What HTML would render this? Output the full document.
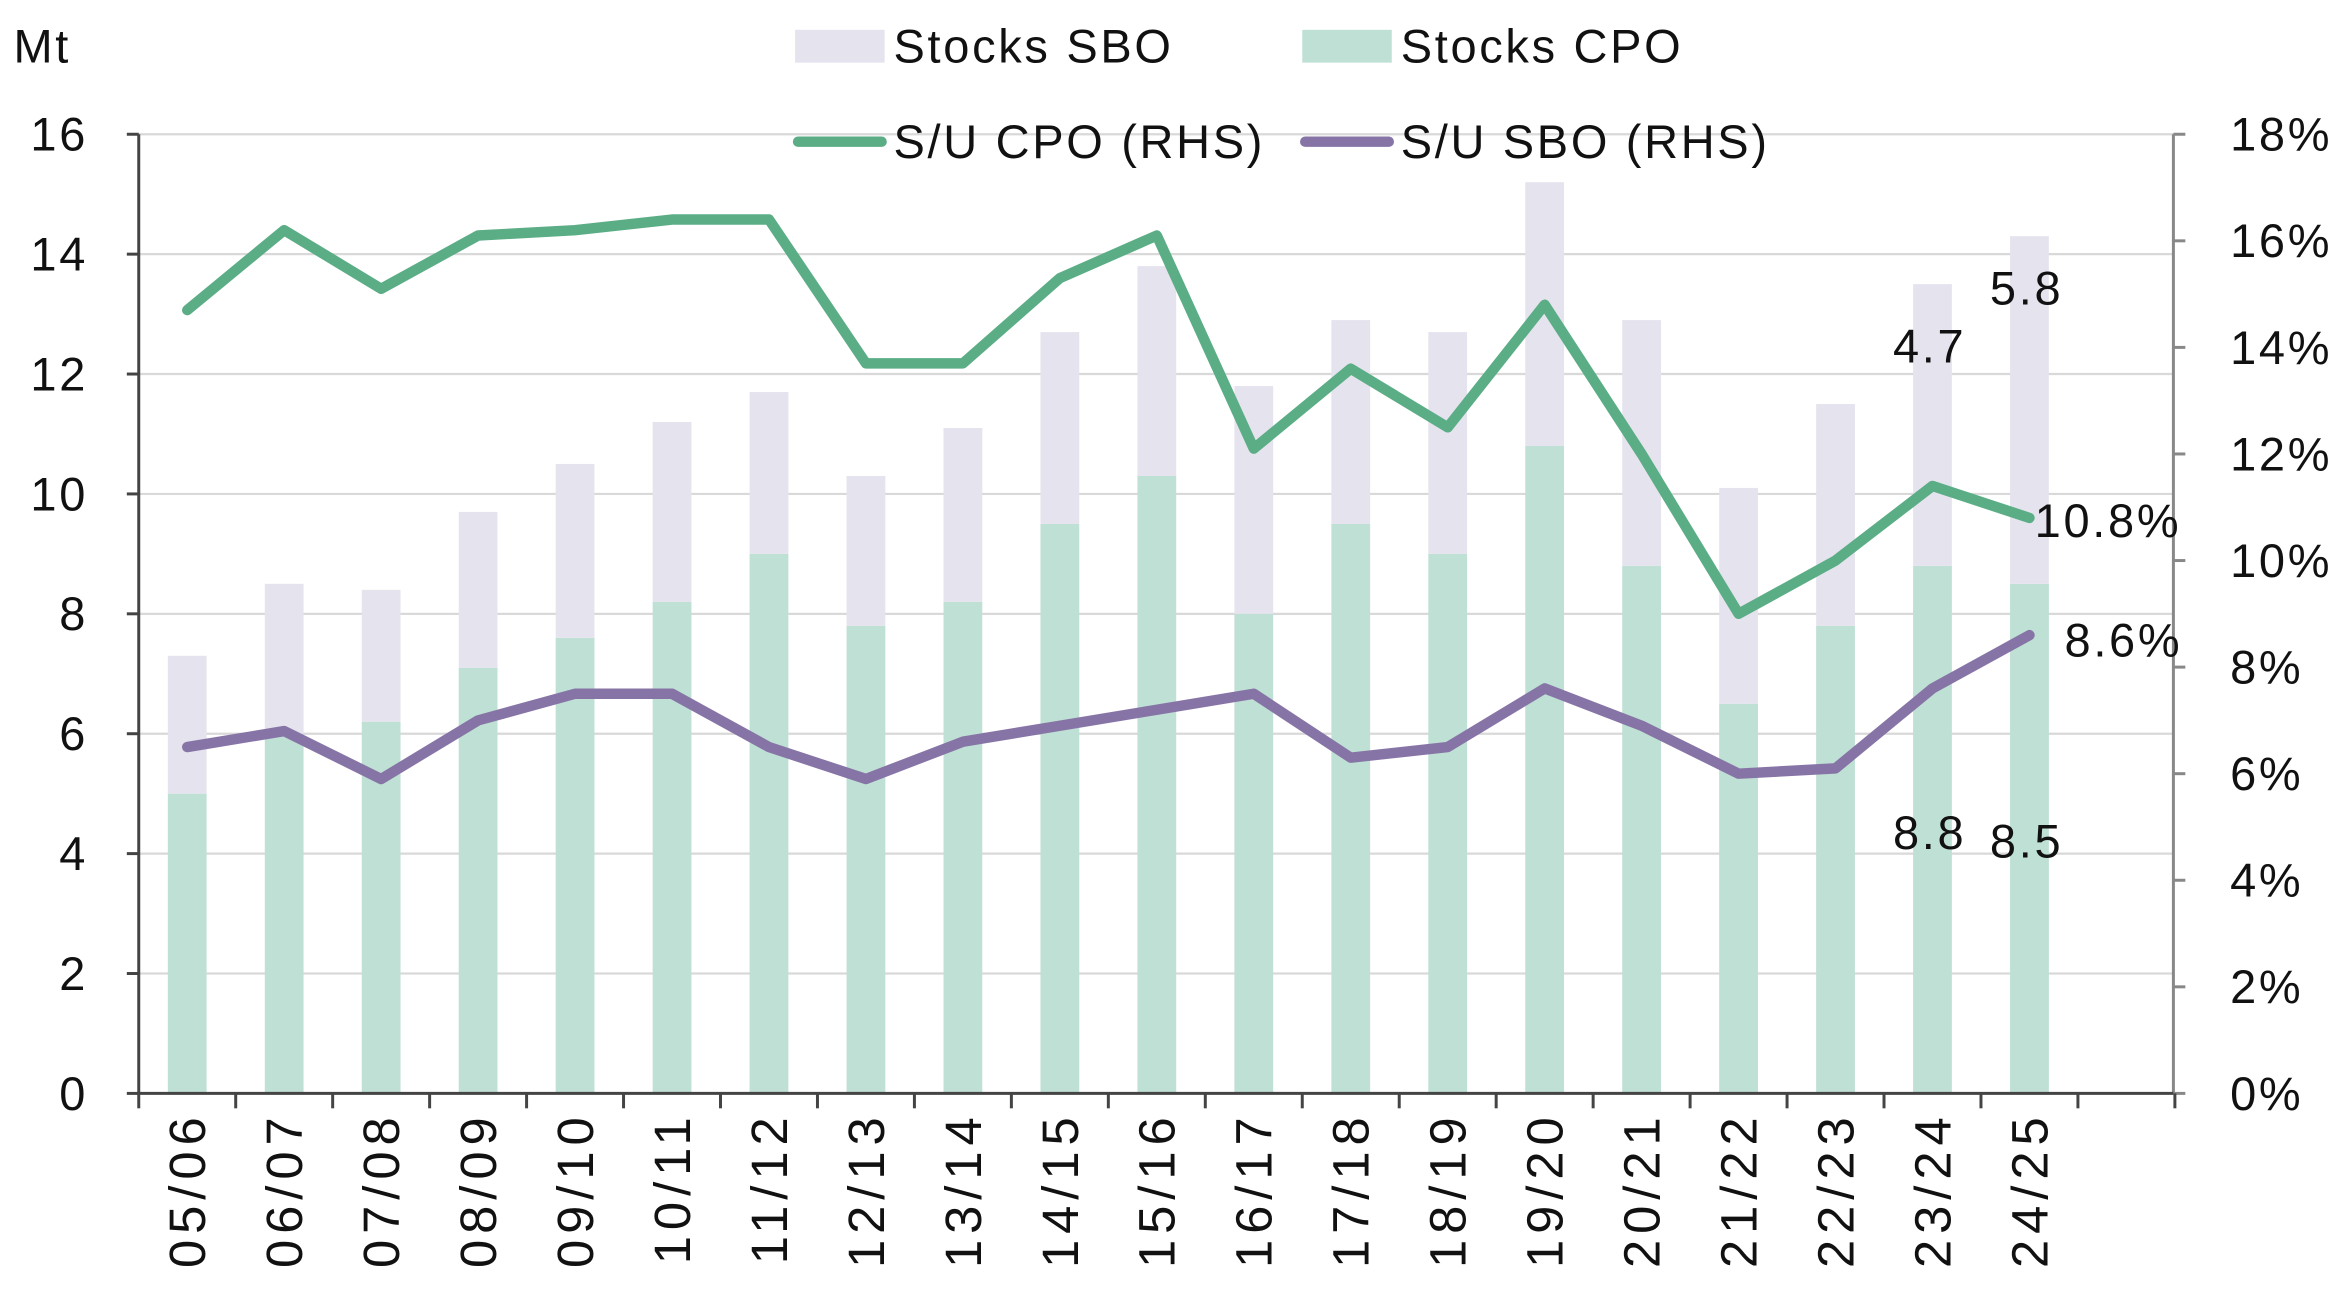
<!DOCTYPE html>
<html><head><meta charset="utf-8"><style>
html,body{margin:0;padding:0;background:#fff}
svg{display:block;font-family:"Liberation Sans",sans-serif}
</style></head><body>
<svg id="chart" width="2339" height="1300" viewBox="0 0 1568 871.5" xmlns="http://www.w3.org/2000/svg"></svg>
<script>
const categories=["05/06","06/07","07/08","08/09","09/10","10/11","11/12","12/13","13/14","14/15","15/16","16/17","17/18","18/19","19/20","20/21","21/22","22/23","23/24","24/25"];
const stocksCPO=[5.0,6.0,6.2,7.1,7.6,8.2,9.0,7.8,8.2,9.5,10.3,8.0,9.5,9.0,10.8,8.8,6.5,7.8,8.8,8.5];
const stocksSBO=[2.3,2.5,2.2,2.6,2.9,3.0,2.7,2.5,2.9,3.2,3.5,3.8,3.4,3.7,4.4,4.1,3.6,3.7,4.7,5.8];
const suCPO=[14.7,16.2,15.1,16.1,16.2,16.4,16.4,13.7,13.7,15.3,16.1,12.1,13.6,12.5,14.8,12.0,9.0,10.0,11.4,10.8];
const suSBO=[6.5,6.8,5.9,7.0,7.5,7.5,6.5,5.9,6.6,6.9,7.2,7.5,6.3,6.5,7.6,6.9,6.0,6.1,7.6,8.6];
const leftTicks=[0,2,4,6,8,10,12,14,16];
const rightTicks=[0,2,4,6,8,10,12,14,16,18];

const NS="http://www.w3.org/2000/svg";
const svg=document.getElementById('chart');
const X0=93,X1=1457,Y0=733,Y1=90,SLOT=65;
const xc=i=>X0+SLOT*(i+0.5);
const yL=v=>Y0-(v/16)*(Y0-Y1);
const yR=v=>Y0-(v/18)*(Y0-Y1);
function el(tag,attrs,parent){const e=document.createElementNS(NS,tag);for(const k in attrs)e.setAttribute(k,attrs[k]);(parent||svg).appendChild(e);return e;}
function txt(s,attrs){const t=el('text',Object.assign({'font-size':31.5,'letter-spacing':1.8,fill:'#111'},attrs));t.textContent=s;return t;}

leftTicks.forEach(v=>{if(v>0){const g=el('line',{x1:X0,x2:X1,y1:yL(v),y2:yL(v),stroke:'#d9d9d9','stroke-width':1.5});

}});

categories.forEach((c,i)=>{
  const w=26,x=xc(i)-w/2;
  const b1=el('rect',{x:x,y:yL(stocksCPO[i]),width:w,height:yL(0)-yL(stocksCPO[i]),fill:'#bfe0d4'});
  
  
  const top=stocksCPO[i]+stocksSBO[i];
  const b2=el('rect',{x:x,y:yL(top),width:w,height:yL(stocksCPO[i])-yL(top),fill:'#e5e3ee'});
  
  
});

const la=el('line',{x1:X0,x2:X0,y1:Y1,y2:Y0,stroke:'#444','stroke-width':2});


const ra=el('line',{x1:X1,x2:X1,y1:Y1,y2:Y0,stroke:'#888','stroke-width':2});


const xa=el('line',{x1:X0,x2:X1,y1:Y0,y2:Y0,stroke:'#444','stroke-width':2});



leftTicks.forEach(v=>{
  el('line',{x1:X0-8,x2:X0,y1:yL(v),y2:yL(v),stroke:'#444','stroke-width':2});
  const t=txt(String(v),{x:59,y:yL(v)+11,'text-anchor':'end'});
  
  
});
rightTicks.forEach(v=>{
  el('line',{x1:X1,x2:X1+8,y1:yR(v),y2:yR(v),stroke:'#888','stroke-width':2});
  const t=txt(v+'%',{x:1495,y:yR(v)+11});
  
  
});
for(let i=0;i<=21;i++){el('line',{x1:X0+SLOT*i,x2:X0+SLOT*i,y1:Y0,y2:Y0+10,stroke:'#444','stroke-width':2});}
categories.forEach((c,i)=>{
  const t=txt(c,{x:0,y:0,'text-anchor':'end','font-size':34,'letter-spacing':4,transform:`translate(${xc(i)+12},745) rotate(-90)`});
  
  
});
const yt=txt('Mt',{x:9,y:42});



function line(vals,color,name){
  const d=vals.map((v,i)=>(i?'L':'M')+xc(i)+','+yR(v)).join(' ');
  const p=el('path',{d:d,fill:'none',stroke:color,'stroke-width':7,'stroke-linecap':'round','stroke-linejoin':'round'});
  
  
}
line(suCPO,'#5aad85','line-su-cpo');
line(suSBO,'#8774a6','line-su-sbo');

const n=categories.length;
[[ (stocksSBO[n-2]).toFixed(1),1269,243],[(stocksSBO[n-1]).toFixed(1),1334,204],
 [suCPO[n-1].toFixed(1)+'%',1364,360],[suSBO[n-1].toFixed(1)+'%',1384,440],
 [stocksCPO[n-2].toFixed(1),1269,569],[stocksCPO[n-1].toFixed(1),1334,575]].forEach(a=>{
  const t=txt(a[0],{x:a[1],y:a[2]});
  
  
});

function legend(kind,color,x,y,label,name){
  const g=el('g',{});
  
  
  if(kind==='rect') el('rect',{x:x,y:y-11,width:60,height:22,fill:color},g);
  else el('line',{x1:x+2,x2:x+58,y1:y,y2:y,stroke:color,'stroke-width':7,'stroke-linecap':'round'},g);
  const t=el('text',{x:x+66,y:y+11,'font-size':31.5,'letter-spacing':1.8,fill:'#111'},g);t.textContent=label;
}
legend('rect','#e5e3ee',533,31,'Stocks SBO','legend-stocks-sbo');
legend('rect','#bfe0d4',873,31,'Stocks CPO','legend-stocks-cpo');
legend('line','#5aad85',533,95,'S/U CPO (RHS)','legend-su-cpo');
legend('line','#8774a6',873,95,'S/U SBO (RHS)','legend-su-sbo');
</script>
</body></html>
